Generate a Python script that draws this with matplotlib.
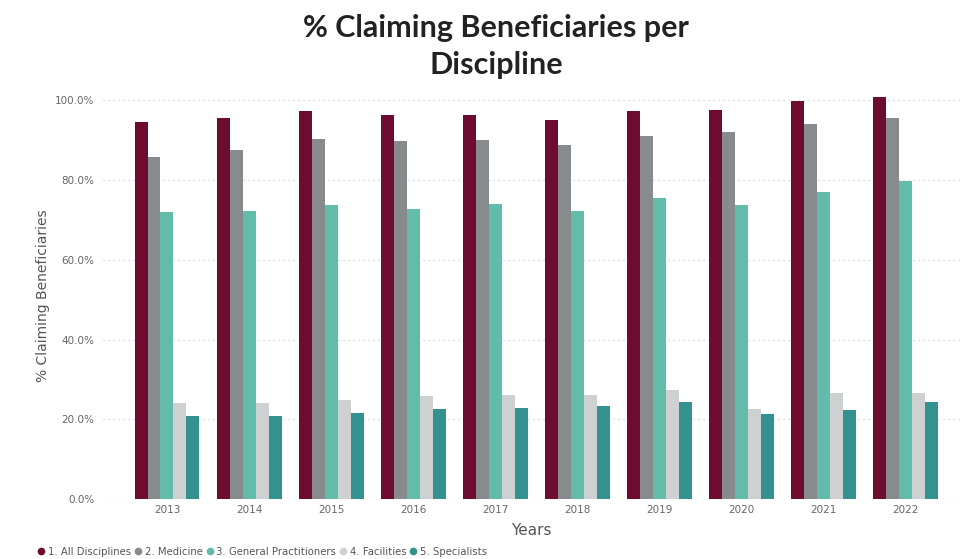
import matplotlib.pyplot as plt
import numpy as np
from matplotlib.lines import Line2D
from matplotlib.ticker import FuncFormatter

years = ["2013", "2014", "2015", "2016", "2017", "2018", "2019", "2020", "2021", "2022"]
series = ["1. All Disciplines", "2. Medicine", "3. General Practitioners",
          "4. Facilities", "5. Specialists"]
all_disciplines = [94.5, 95.4, 97.2, 96.2, 96.2, 95.0, 97.2, 97.5, 99.8, 100.8]
medicine = [85.6, 87.5, 90.2, 89.7, 90.0, 88.7, 91.0, 91.9, 94.1, 95.4]
general_practitioners = [71.9, 72.1, 73.7, 72.7, 73.9, 72.2, 75.4, 73.7, 77.0, 79.6]
facilities = [24.0, 24.1, 24.8, 25.8, 26.1, 26.1, 27.3, 22.6, 26.5, 26.7]
specialists = [20.9, 20.9, 21.5, 22.6, 22.8, 23.3, 24.3, 21.3, 22.4, 24.4]

colors = ["#6E0B31", "#878B8E", "#63BBAA", "#CED1D2", "#33918F"]
values = [all_disciplines, medicine, general_practitioners, facilities, specialists]

fig = plt.figure(figsize=(9.62, 5.59), dpi=100)
ax = fig.add_axes([0.107, 0.107, 0.891, 0.727])

x = np.arange(len(years))
width = 0.158
for i, (vals, col) in enumerate(zip(values, colors)):
    ax.bar(x + (i - 2) * width, vals, width, color=col, zorder=3)

ax.set_xlim(-0.78, len(years) - 1 + 0.66)
ax.set_ylim(0, 101.8)
ax.set_yticks([0, 20, 40, 60, 80, 100])
ax.yaxis.set_major_formatter(FuncFormatter(lambda v, _: f"{v:.1f}%"))
ax.set_xticks(x)
ax.set_xticklabels(years)
ax.grid(axis="y", color="#C8C8C8", linestyle=(0, (1, 3)), linewidth=0.9, zorder=0)
for s in ax.spines.values():
    s.set_visible(False)
ax.tick_params(length=0, labelsize=7.5, labelcolor="#666666")
ax.tick_params(axis="y", pad=6)
ax.tick_params(axis="x", pad=4)

ax.set_ylabel("% Claiming Beneficiaries", fontsize=10, color="#555555", labelpad=4)
ax.set_xlabel("Years", fontsize=11, color="#555555", labelpad=6)

fig.text(0.516, 0.975, "% Claiming Beneficiaries per\nDiscipline", ha="center", va="top",
         fontsize=22, fontweight="bold", family="Lato", color="#222222", linespacing=1.38)

handles = [Line2D([], [], marker="o", linestyle="", color=c, markersize=4.5) for c in colors]
fig.legend(handles, series, loc="lower left", bbox_to_anchor=(0.028, -0.012), ncol=5,
           frameon=False, fontsize=7.3, labelcolor="#555555", handletextpad=0.15,
           columnspacing=0.2, handlelength=1.0)

fig.savefig("out.png", dpi=100)
